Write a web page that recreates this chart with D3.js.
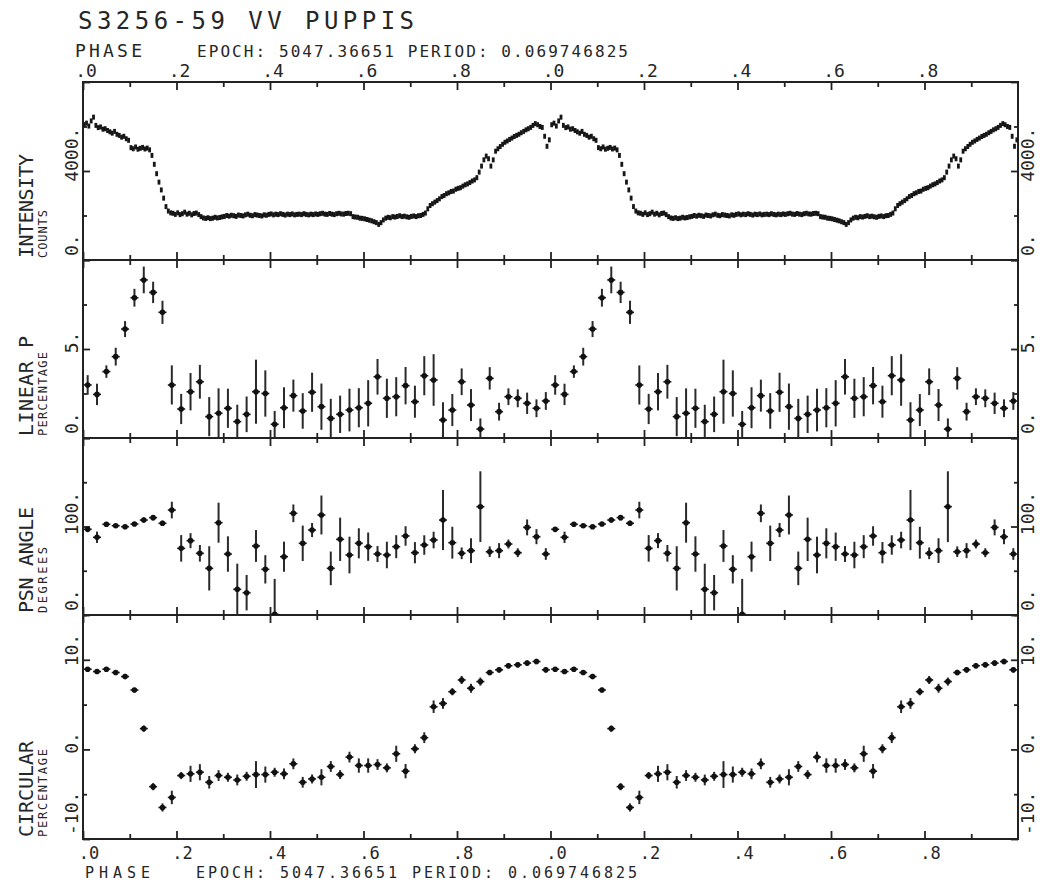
<!DOCTYPE html>
<html>
<head>
<meta charset="utf-8">
<script src="https://cdn.jsdelivr.net/npm/d3@7"></script>
<style>
body { margin: 0; background: #fff; }
svg { display: block; }
text { font-family: "DejaVu Sans Mono", monospace; fill: #262626; }
</style>
</head>
<body>
<div id="target_area"></div>
<script>
// one cycle of data, the plot shows it twice (phase 0-1 and 1-2)
var intensityStep = 0.005;
var intensityCounts = [
	6080, 6150, 6020, 6250, 6420, 6050, 5950, 5980, 5880, 5900,
	5820, 5760, 5700, 5780, 5650, 5600, 5520, 5560, 5450, 5380,
	5050, 5000, 5080, 4980, 5020, 5060, 4990, 5030, 4950,
	4700, 4300, 3880, 3500, 3150, 2780, 2400, 2200, 2120,
	2100, 2050, 2120, 2040, 2080, 2150, 2060, 2100, 2030, 2090, 2110, 2040,
	1950, 1890, 1870, 1900, 1860, 1880, 1920, 1890, 1910, 1940,
	1960, 2000, 1970, 2010, 1990, 1960, 2020, 2000, 1980, 2030,
	2060, 2010, 1990, 2040, 2020, 2000, 1980, 2030, 2010, 2050,
	2070, 2030, 2060, 2040, 2080, 2050, 2020, 2060, 2040, 2070,
	2030, 2050, 2060, 2040, 2080, 2050, 2030, 2060, 2040, 2070,
	2050, 2080, 2100, 2060, 2050, 2090, 2060, 2040, 2080, 2100,
	2070, 2060, 2090, 2100, 2080,
	1950, 1930, 1920, 1880, 1870, 1850, 1820, 1790, 1760, 1720, 1680, 1600, 1680,
	1800, 1880, 1920, 1900, 1950, 1930, 1960, 1990, 1950, 1970,
	1940, 1920, 1960, 1980, 1950, 1990, 2000, 2050, 2110,
	2300, 2450, 2530, 2600, 2670,
	2750, 2850, 2900, 2980, 3020, 3080, 3100, 3180, 3220, 3250,
	3320, 3380, 3420, 3480, 3550, 3600, 3700,
	3950, 4220, 4500, 4670, 4550, 4220, 4500, 4890, 5000,
	5100, 5200, 5290, 5350, 5420, 5480, 5550, 5600, 5650, 5720,
	5780, 5850, 5900, 5960, 6050, 6130, 6080, 6000, 5960,
	5560, 5110, 5400
];

var polPhase = [
	0.01, 0.03, 0.05, 0.07, 0.09, 0.11, 0.13, 0.15, 0.17, 0.19,
	0.21, 0.23, 0.25, 0.27, 0.29, 0.31, 0.33, 0.35, 0.37, 0.39,
	0.41, 0.43, 0.45, 0.47, 0.49, 0.51, 0.53, 0.55, 0.57, 0.59,
	0.61, 0.63, 0.65, 0.67, 0.69, 0.71, 0.73, 0.75, 0.77, 0.79,
	0.81, 0.83, 0.85, 0.87, 0.89, 0.91, 0.93, 0.95, 0.97, 0.99
];
var linearP = [
	2.98, 2.45, 3.73, 4.57, 6.12, 7.88, 8.88, 8.18, 7.06, 2.98,
	1.63, 2.60, 3.16, 1.20, 1.39, 1.67, 0.92, 1.33, 2.60, 2.50,
	0.77, 1.70, 2.38, 1.52, 2.57, 1.76, 1.10, 1.33, 1.57, 1.70,
	1.95, 3.44, 2.23, 2.32, 2.94, 2.04, 3.50, 3.26, 1.01, 1.57,
	3.16, 1.85, 0.50, 3.35, 1.48, 2.32, 2.23, 1.95, 1.67, 2.08
];
var linearPErr = [
	0.55, 0.6, 0.35, 0.5, 0.45, 0.5, 0.75, 0.6, 0.65, 1.1,
	0.85, 1.05, 0.95, 1.1, 1.4, 1.1, 0.95, 1.0, 1.8, 1.3,
	0.75, 1.15, 0.9, 1.0, 1.1, 1.3, 1.1, 1.05, 1.2, 1.1,
	1.3, 1.0, 1.1, 1.1, 1.05, 0.9, 1.1, 1.45, 1.0, 0.9,
	0.75, 0.9, 0.6, 0.63, 0.5, 0.47, 0.5, 0.6, 0.5, 0.5
];
var psnAngle = [
	96.8, 87.8, 102.5, 100.9, 99.8, 102.8, 107.3, 110, 103.6, 118.6,
	75.3, 84, 69.7, 52.7, 104.3, 68.9, 29, 25.2, 78, 51.6,
	0.8, 65.9, 114.9, 81, 96, 113, 52.7, 85.5, 67.8, 81,
	77.2, 68.9, 67.8, 77.2, 89.3, 70.4, 79.1, 84.7, 107.3, 81.7,
	69.7, 72.7, 122.4, 71.5, 72.7, 80.2, 70.4, 99, 88.5, 68.9
];
var psnAngleErr = [
	1.5, 6.4, 2, 2, 2, 2, 3, 3, 3, 9.4,
	15, 8.5, 9.4, 25, 22.6, 20, 29, 20, 18, 16,
	40, 17, 10, 20, 8, 22, 19, 24.5, 20.7, 17,
	16, 9, 15, 13, 11, 12, 11, 9.4, 34, 18,
	6.6, 14, 40, 6, 8.5, 5, 5, 9, 8.5, 6.6
];
var circular = [
	8.95, 8.69, 8.95, 8.58, 8.13, 6.63, 2.32, -4.16, -6.48, -5.36,
	-2.92, -2.73, -2.55, -3.67, -2.92, -3.11, -3.41, -3.0, -2.81, -2.81,
	-2.55, -2.73, -1.61, -3.67, -3.3, -3.11, -1.91, -2.81, -0.86, -1.8,
	-1.8, -1.69, -2.06, -0.49, -2.43, 0.07, 1.31, 4.76, 5.13, 6.44,
	7.75, 6.82, 7.57, 8.58, 8.88, 9.33, 9.44, 9.63, 9.81, 8.88
];
var circularErr = [
	0.2, 0.2, 0.25, 0.2, 0.3, 0.25, 0.35, 0.4, 0.45, 0.75,
	0.4, 0.9, 0.9, 0.7, 0.6, 0.5, 0.6, 0.5, 1.5, 0.9,
	0.5, 0.6, 0.6, 0.6, 0.5, 0.9, 0.6, 0.5, 0.6, 0.8,
	0.8, 0.6, 0.5, 0.9, 0.8, 0.5, 0.6, 0.7, 0.6, 0.4,
	0.45, 0.5, 0.45, 0.3, 0.3, 0.3, 0.3, 0.3, 0.3, 0.3
];

var phaseMajor = [0, 0.2, 0.4, 0.6, 0.8, 1.0, 1.2, 1.4, 1.6, 1.8];
var phaseMinor = [0.1, 0.3, 0.5, 0.7, 0.9, 1.1, 1.3, 1.5, 1.7, 1.9];
var phaseLabels = [".0", ".2", ".4", ".6", ".8", ".0", ".2", ".4", ".6", ".8"];
var cycles = [0, 1];

var title = "S3256-59 VV PUPPIS";
var epochText = "EPOCH: 5047.36651 PERIOD: 0.069746825";

var width = 1040, height = 884;
var svg = d3.select("#target_area").append("svg")
	.attr("width", width)
	.attr("height", height);

var x = d3.scaleLinear().domain([0, 2]).range([83, 1018]);

var panels = [
	{name: "INTENSITY", unit: "COUNTS", top: 82, bottom: 260, domain: [0, 8000],
		major: [0, 4000, 8000], minor: [2000, 6000], labels: [[0, "0."], [4000, "4000."]],
		nameLen: 104, unitLen: 48},
	{name: "LINEAR P", unit: "PERCENTAGE", top: 260, bottom: 438, domain: [0, 10],
		major: [0, 5, 10], minor: [2.5, 7.5], labels: [[0, "0."], [5, "5."]],
		nameLen: 100, unitLen: 84},
	{name: "PSN ANGLE", unit: "DEGREES", top: 438, bottom: 615, domain: [0, 200],
		major: [0, 100, 200], minor: [50, 150], labels: [[0, "0."], [100, "100."]],
		nameLen: 106, unitLen: 66},
	{name: "CIRCULAR", unit: "PERCENTAGE", top: 615, bottom: 839, domain: [-10, 15],
		major: [-10, 0, 10], minor: [-5, 5, 15], labels: [[-10, "-10."], [0, "0."], [10, "10."]],
		nameLen: 96, unitLen: 88}
];

panels.forEach(function(p, i) {
	p.y = d3.scaleLinear().domain(p.domain).range([p.bottom, p.top]);

	svg.append("clipPath").attr("id", "clip" + i)
		.append("rect")
		.attr("x", x(0)).attr("y", p.top)
		.attr("width", x(2) - x(0)).attr("height", p.bottom - p.top);

	// frame
	svg.append("rect")
		.attr("x", x(0)).attr("y", p.top)
		.attr("width", x(2) - x(0)).attr("height", p.bottom - p.top)
		.attr("fill", "none").attr("stroke", "#222").attr("stroke-width", 2);

	// inward ticks on all four sides
	var axes = [
		[d3.axisBottom(x).tickValues(phaseMajor).tickSize(8), "translate(0," + p.top + ")"],
		[d3.axisBottom(x).tickValues(phaseMinor).tickSize(5), "translate(0," + p.top + ")"],
		[d3.axisTop(x).tickValues(phaseMajor).tickSize(8), "translate(0," + p.bottom + ")"],
		[d3.axisTop(x).tickValues(phaseMinor).tickSize(5), "translate(0," + p.bottom + ")"],
		[d3.axisRight(p.y).tickValues(p.major).tickSize(7), "translate(" + x(0) + ",0)"],
		[d3.axisRight(p.y).tickValues(p.minor).tickSize(4), "translate(" + x(0) + ",0)"],
		[d3.axisLeft(p.y).tickValues(p.major).tickSize(7), "translate(" + x(2) + ",0)"],
		[d3.axisLeft(p.y).tickValues(p.minor).tickSize(4), "translate(" + x(2) + ",0)"]
	];
	axes.forEach(function(a) {
		var g = svg.append("g").attr("transform", a[1]).call(a[0].tickFormat(""));
		g.select(".domain").remove();
		g.selectAll(".tick line").attr("stroke", "#222").attr("stroke-width", 1.8);
	});

	// rotated value labels, left and right
	[78, 1034].forEach(function(bx) {
		p.labels.forEach(function(l) {
			var t = svg.append("text")
				.attr("font-size", 18)
				.attr("text-anchor", "start")
				.text(l[1]);
			var len = t.node().getComputedTextLength();
			var ty = Math.min(p.y(l[0]) + 0.2 * len, p.bottom - 4);
			t.attr("transform", "translate(" + bx + "," + ty + ") rotate(-90)");
		});
	});

	// panel names
	svg.append("text")
		.attr("font-size", 20)
		.attr("textLength", p.nameLen)
		.attr("transform", "translate(33," + (p.bottom - 2) + ") rotate(-90)")
		.text(p.name);
	svg.append("text")
		.attr("font-size", 12)
		.attr("textLength", p.unitLen)
		.attr("transform", "translate(47," + (p.bottom - 2) + ") rotate(-90)")
		.text(p.unit);
});

// top and bottom phase labels
var top0 = svg.append("g");
top0.selectAll("text").data(phaseMajor).enter().append("text")
	.attr("x", function(d) { return x(d) + 3; })
	.attr("y", 77)
	.attr("font-size", 18)
	.attr("text-anchor", "middle")
	.text(function(d, i) { return phaseLabels[i]; });
var bot0 = svg.append("g");
bot0.selectAll("text").data(phaseMajor).enter().append("text")
	.attr("x", function(d) { return x(d) + 6; })
	.attr("y", 859)
	.attr("font-size", 17)
	.attr("text-anchor", "middle")
	.text(function(d, i) { return phaseLabels[i]; });

svg.append("text").attr("x", 78).attr("y", 29).attr("font-size", 24)
	.attr("textLength", 336).text(title);
svg.append("text").attr("x", 75).attr("y", 57).attr("font-size", 18)
	.attr("textLength", 67).text("PHASE");
svg.append("text").attr("x", 197).attr("y", 57).attr("font-size", 16)
	.attr("textLength", 431).text(epochText);
svg.append("text").attr("x", 85).attr("y", 878).attr("font-size", 15)
	.attr("textLength", 65).text("PHASE");
svg.append("text").attr("x", 196).attr("y", 878).attr("font-size", 15)
	.attr("textLength", 441).text(epochText);

// intensity light curve
var intPts = [];
cycles.forEach(function(c) {
	intensityCounts.forEach(function(v, i) {
		intPts.push({ph: (i + 0.5) * intensityStep + c, v: v});
	});
});
svg.append("g").attr("clip-path", "url(#clip0)")
	.selectAll("rect").data(intPts).enter().append("rect")
	.attr("x", function(d) { return x(d.ph) - 1.4; })
	.attr("y", function(d) { return panels[0].y(d.v) - 2.5; })
	.attr("width", 2.8)
	.attr("height", 5)
	.attr("fill", "#161616");

// polarization panels with error bars
function drawSeries(panelIndex, values, errs) {
	var p = panels[panelIndex];
	var pts = [];
	cycles.forEach(function(c) {
		values.forEach(function(v, i) {
			pts.push({ph: polPhase[i] + c, v: v, e: errs[i]});
		});
	});
	var g = svg.append("g").attr("clip-path", "url(#clip" + panelIndex + ")");
	var m = g.selectAll("g").data(pts).enter().append("g");
	m.append("line")
		.attr("x1", function(d) { return x(d.ph); })
		.attr("x2", function(d) { return x(d.ph); })
		.attr("y1", function(d) { return p.y(d.v - d.e); })
		.attr("y2", function(d) { return p.y(d.v + d.e); })
		.attr("stroke", "#2a2a2a").attr("stroke-width", 2);
	m.append("line")
		.attr("x1", function(d) { return x(d.ph) - 4; })
		.attr("x2", function(d) { return x(d.ph) + 4; })
		.attr("y1", function(d) { return p.y(d.v); })
		.attr("y2", function(d) { return p.y(d.v); })
		.attr("stroke", "#1a1a1a").attr("stroke-width", 1.6);
	m.append("circle")
		.attr("cx", function(d) { return x(d.ph); })
		.attr("cy", function(d) { return p.y(d.v); })
		.attr("r", 2.8)
		.attr("fill", "#111");
}
drawSeries(1, linearP, linearPErr);
drawSeries(2, psnAngle, psnAngleErr);
drawSeries(3, circular, circularErr);
</script>
</body>
</html>
